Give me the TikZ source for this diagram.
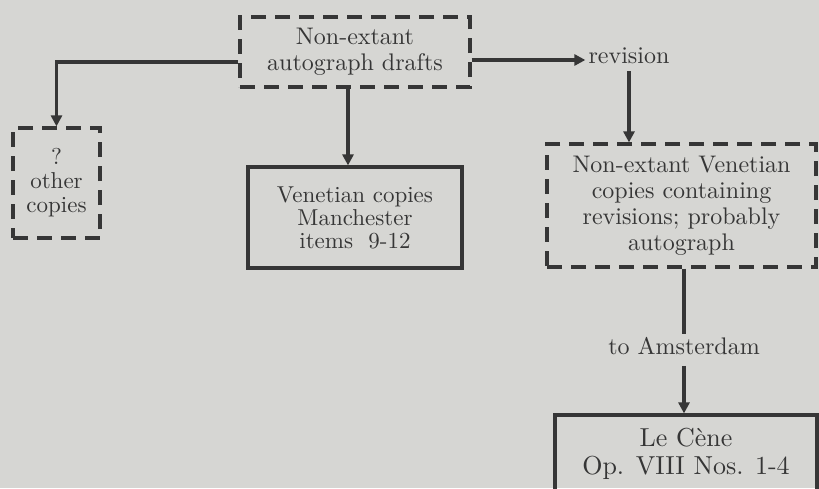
\documentclass[tikz,border=0pt]{standalone}
\usepackage{fontspec}
\setmainfont{lmroman10-regular.otf}
\usepackage{xcolor}
\usetikzlibrary{arrows.meta}
\usetikzlibrary{positioning}
\definecolor{paper}{HTML}{D6D6D3}
\definecolor{ink}{HTML}{363636}
\tikzset{
  box/.style={draw=ink, line width=3.2pt, text=ink, align=center, inner sep=0pt},
  dashbox/.style={box, dash pattern=on 15pt off 9pt},
  lbl/.style={text=ink, inner sep=3pt},
  conn/.style={draw=ink, line width=3.2pt},
  arr/.style={conn, -{Triangle[length=11pt,width=11pt]}}
}
\begin{document}
\begin{tikzpicture}[x=1pt,y=-1pt,font=\fontsize{24}{26}\selectfont]
    \useasboundingbox (0,0) rectangle (819,488);
    \fill[paper] (0,0) rectangle (819,488);
    % boxes
    \node[dashbox, minimum width=230pt, minimum height=70pt] (drafts) at (355,52) {Non-extant\\autograph drafts};
    \node[dashbox, minimum width=87pt, minimum height=110pt, font=\fontsize{23}{24}\selectfont] (other) at (56.5,183) {?\\other\\copies};
    \node[box, minimum width=214pt, minimum height=101pt, font=\fontsize{23}{23}\selectfont] (manch) at (355,217.5) {Venetian copies\\Manchester\\items~~9-12};
    \node[dashbox, minimum width=269pt, minimum height=123pt] (venet) at (681.5,205.5) {Non-extant Venetian\\copies containing\\revisions; probably\\autograph};
    \node[box, minimum width=262pt, minimum height=78pt, font=\fontsize{26}{28}\selectfont] (cene) at (686,454) {Le C\`ene\\Op. VIII Nos. 1-4};
    % labels
    \node[lbl] (rev) at (629,56) {revision};
    \node[lbl] (ams) at (684,346) {to Amsterdam};
    % connectors
    \draw[arr] ([yshift=-10pt]drafts.west) -| (other.north);
    \draw[arr] ([xshift=-7pt]drafts.south) -- ([xshift=-7pt]drafts.south |- manch.north);
    \draw[arr] ([yshift=-8pt]drafts.east) -- ([yshift=-8pt]drafts.east -| rev.west);
    \draw[arr] ([yshift=-4pt]rev.south) -- (rev.south |- venet.north);
    \draw[conn] (ams.north |- venet.south) -- (ams.north);
    \draw[arr] ([yshift=-8pt]ams.south) -- (ams.south |- cene.north);
  \end{tikzpicture}
\end{document}
